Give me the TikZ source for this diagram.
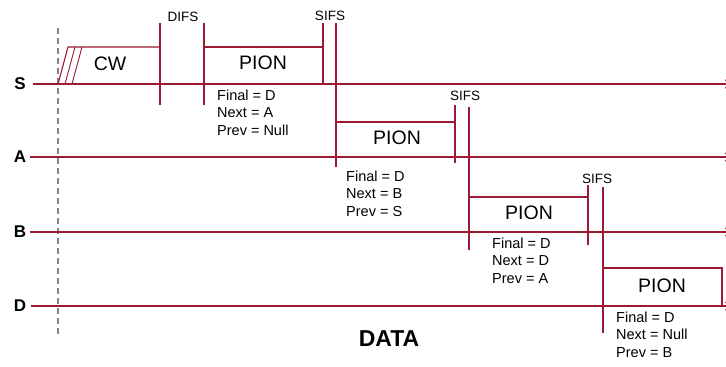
\documentclass[tikz,border=0pt]{standalone}
\usepackage{fontspec}
\setmainfont{Liberation Sans}
\usetikzlibrary{arrows.meta}
\definecolor{lanered}{RGB}{155,25,50}
\definecolor{dashgray}{RGB}{130,130,130}
\begin{document}
\begin{tikzpicture}[x=1pt,y=-1pt,
  laneline/.style={draw=lanered, line width=1.8pt, -{To[length=5pt,width=9pt,line width=0.8pt]}},
  tickline/.style={draw=lanered, line width=1.1pt},
  boxline/.style={draw=lanered, line width=1.1pt},
  lanelbl/.style={inner sep=0pt, font=\fontsize{17}{17}\selectfont\bfseries},
  pionlbl/.style={inner sep=0pt, font=\fontsize{19.5}{19.5}\selectfont},
  ifslbl/.style={inner sep=0pt, font=\fontsize{13.5}{13.5}\selectfont},
  infolbl/.style={inner sep=0pt, anchor=base west, align=left, font=\fontsize{14.5}{17.5}\selectfont},
]
\useasboundingbox (0,0) rectangle (726,367);

% dashed reference line
\coordinate (dtop) at (58,28);
\coordinate (dbot) at (58,334);
\draw[dashgray, line width=2.2pt, dash pattern=on 6pt off 4pt] (dtop) -- (dbot);

% lanes
\node[lanelbl] (labS) at (20,84) {S};
\node[lanelbl] (labA) at (20,157) {A};
\node[lanelbl] (labB) at (20,232) {B};
\node[lanelbl] (labD) at (20,306) {D};
\coordinate (Sl) at (33,84);  \coordinate (Sr) at (730,84);
\coordinate (Al) at (30,157); \coordinate (Ar) at (730,157);
\coordinate (Bl) at (30,232); \coordinate (Br) at (730,232);
\coordinate (Dl) at (31,306); \coordinate (Dr) at (730,306);
\draw[laneline] (Sl) -- (Sr);
\draw[laneline] (Al) -- (Ar);
\draw[laneline] (Bl) -- (Br);
\draw[laneline] (Dl) -- (Dr);

% CW box
\coordinate (cw1) at (58,84); \coordinate (cw2) at (68,47); \coordinate (cw3) at (160,47);
\draw[boxline] (cw1) -- (cw2) -- (cw3);
\coordinate (h1a) at (65,84); \coordinate (h1b) at (75,47);
\coordinate (h2a) at (72,84); \coordinate (h2b) at (82,47);
\draw[lanered, line width=0.9pt] (h1a) -- (h1b) (h2a) -- (h2b);
\node[pionlbl] (cw) at (110,63.5) {CW};

% DIFS
\coordinate (v1t) at (160,23); \coordinate (v1b) at (160,105);
\coordinate (v2t) at (204,23); \coordinate (v2b) at (204,105);
\draw[tickline] (v1t) -- (v1b);
\draw[tickline] (v2t) -- (v2b);
\node[ifslbl] (difs) at (183,17) {DIFS};

% PION S
\coordinate (ps1) at (204,47); \coordinate (ps2) at (323,47);
\draw[boxline] (ps1) -- (ps2);
\node[pionlbl] (pionS) at (263,62.5) {PION};
\coordinate (v3t) at (323,23); \coordinate (v3b) at (323,84);
\coordinate (v4t) at (336,23); \coordinate (v4b) at (336,167);
\draw[tickline] (v3t) -- (v3b);
\draw[tickline] (v4t) -- (v4b);
\node[ifslbl] (sifs1) at (330,16) {SIFS};
\node[infolbl] (infoS) at (217,135) {Final = D\\Next = A\\Prev = Null};

% PION A
\coordinate (pa1) at (336,122); \coordinate (pa2) at (455,122);
\draw[boxline] (pa1) -- (pa2);
\node[pionlbl] (pionA) at (397,137.5) {PION};
\coordinate (v5t) at (455,105); \coordinate (v5b) at (455,163);
\coordinate (v6t) at (469,107); \coordinate (v6b) at (469,250);
\draw[tickline, line width=1.6pt] (v5t) -- (v5b);
\draw[tickline] (v6t) -- (v6b);
\node[ifslbl] (sifs2) at (465,95.5) {SIFS};
\node[infolbl] (infoA) at (346,216) {Final = D\\Next = B\\Prev = S};

% PION B
\coordinate (pb1) at (469,197); \coordinate (pb2) at (588,197);
\draw[boxline] (pb1) -- (pb2);
\node[pionlbl] (pionB) at (529,212.5) {PION};
\coordinate (v7t) at (588,185); \coordinate (v7b) at (588,245);
\coordinate (v8t) at (603,187); \coordinate (v8b) at (603,333);
\draw[tickline] (v7t) -- (v7b);
\draw[tickline] (v8t) -- (v8b);
\node[ifslbl] (sifs3) at (597,178.5) {SIFS};
\node[infolbl] (infoB) at (492,283) {Final = D\\Next = D\\Prev = A};

% PION D
\coordinate (pd1) at (603,268); \coordinate (pd2) at (722,268); \coordinate (pd3) at (722,306);
\draw[boxline] (pd1) -- (pd2) -- (pd3);
\node[pionlbl] (pionD) at (662,286) {PION};
\node[infolbl] (infoD) at (616,357) {Final = D\\Next = Null\\Prev = B};

% DATA
\node[inner sep=0pt, font=\fontsize{23}{23}\selectfont\bfseries] (data) at (389,338.5) {DATA};
\end{tikzpicture}
\end{document}
